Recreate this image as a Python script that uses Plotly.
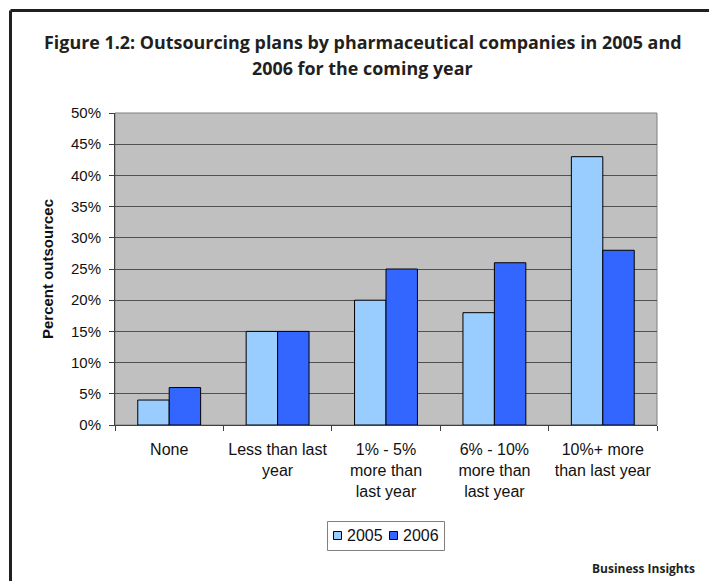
import plotly.graph_objects as go

# Survey categories and responses (share of companies)
categories = [
    "None",
    "Less than last<br>year",
    "1% - 5%<br>more than<br>last year",
    "6% - 10%<br>more than<br>last year",
    "10%+ more<br>than last year",
]
plans_2005 = [0.04, 0.15, 0.20, 0.18, 0.43]
plans_2006 = [0.06, 0.15, 0.25, 0.26, 0.28]
series_names = ["2005", "2006"]
series_colors = ["#99CCFF", "#3366FF"]

W, H = 709, 581
L, R, T, B = 115, 52, 113, 156
PW, PH = W - L - R, H - T - B


def px(x):
    """Page x pixel -> paper coordinate."""
    return (x - L) / PW


def py(y):
    """Page y pixel (from top) -> paper coordinate."""
    return (H - B - y) / PH


fig = go.Figure()
for name, vals, col in zip(series_names, [plans_2005, plans_2006], series_colors):
    fig.add_trace(go.Bar(
        x=categories, y=vals, name=name,
        marker=dict(color=col, line=dict(color="#000000", width=1)),
        showlegend=False,
    ))

axis_font = dict(family="Arial, Liberation Sans, sans-serif", size=15, color="#111111")
cat_font = dict(family="Arial, Liberation Sans, sans-serif", size=16, color="#111111")

fig.update_layout(
    width=W, height=H,
    margin=dict(l=L, r=R, t=T, b=B, pad=0),
    paper_bgcolor="white",
    plot_bgcolor="#C0C0C0",
    barmode="group",
    bargap=0.42,
    bargroupgap=0,
    xaxis=dict(
        type="category",
        tickson="boundaries",
        ticks="outside", ticklen=5, tickcolor="#404040",
        showgrid=False,
        showline=True, linecolor="#404040", linewidth=1,
        tickfont=cat_font,
        ticklabelstandoff=10,
        fixedrange=True,
    ),
    yaxis=dict(
        range=[0, 0.5],
        dtick=0.05,
        tickformat=".0%",
        ticks="outside", ticklen=5, tickcolor="#404040",
        showgrid=True, gridcolor="#505050", gridwidth=1,
        showline=True, linecolor="#404040", linewidth=1,
        zeroline=False,
        tickfont=axis_font,
        ticklabelstandoff=5,
        title=dict(
            text="<b>Percent outsourcec</b>",
            font=dict(family="Arial, Liberation Sans, sans-serif", size=15, color="#111111"),
            standoff=13,
        ),
        fixedrange=True,
    ),
)

# Plot-area border
fig.add_shape(type="rect", xref="paper", yref="paper", x0=0, x1=1, y0=0, y1=1,
              line=dict(color="#808080", width=1), layer="below")

# Page frame: top rule and left rule
fig.add_shape(type="line", xref="paper", yref="paper",
              x0=px(10.5), x1=px(W), y0=py(10.5), y1=py(10.5),
              line=dict(color="#231F20", width=3))
fig.add_shape(type="line", xref="paper", yref="paper",
              x0=px(10.5), x1=px(10.5), y0=py(10.5), y1=py(H),
              line=dict(color="#231F20", width=3))

# Legend box with swatches
fig.add_shape(type="rect", xref="paper", yref="paper",
              x0=px(327.5), x1=px(444.5), y0=py(521.5), y1=py(550.5),
              line=dict(color="#808080", width=1), fillcolor="white")
swatch_x = [333, 389]
text_x = [345, 401]
for sx, tx, name, col in zip(swatch_x, text_x, series_names, series_colors):
    fig.add_shape(type="rect", xref="paper", yref="paper",
                  x0=px(sx + 0.5), x1=px(sx + 8.5), y0=py(531.5), y1=py(539.5),
                  line=dict(color="#000000", width=1), fillcolor=col)
    fig.add_annotation(text=name, xref="paper", yref="paper",
                       x=px(tx), y=py(535.5), xanchor="left", yanchor="middle",
                       showarrow=False, font=cat_font)

title_font = dict(family="Open Sans, sans-serif", size=17.9, color="#231F20")
fig.add_annotation(
    text="<b>Figure 1.2: Outsourcing plans by pharmaceutical companies in 2005 and</b>",
    xref="paper", yref="paper", x=px(362), y=py(42),
    xanchor="center", yanchor="middle", showarrow=False, font=title_font,
)
fig.add_annotation(
    text="<b>2006 for the coming year</b>",
    xref="paper", yref="paper", x=px(362), y=py(68),
    xanchor="center", yanchor="middle", showarrow=False, font=title_font,
)
fig.add_annotation(
    text="<b>Business Insights</b>",
    xref="paper", yref="paper", x=px(697), y=py(568),
    xanchor="right", yanchor="middle", showarrow=False,
    font=dict(family="Open Sans, sans-serif", size=12, color="#231F20"),
)

fig.write_html("out.html")
